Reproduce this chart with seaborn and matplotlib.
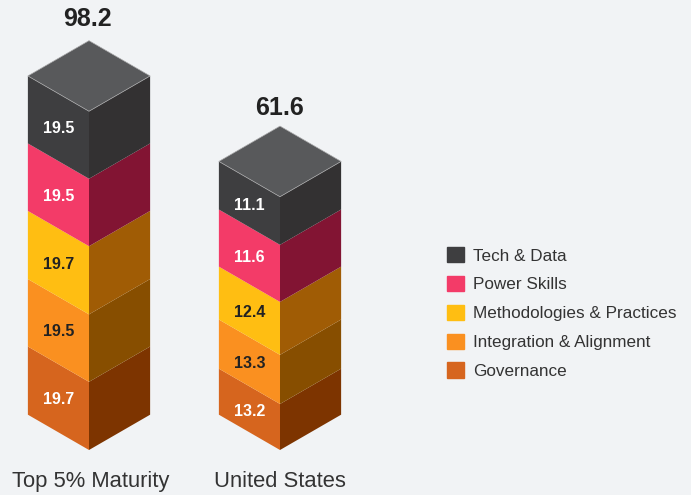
import matplotlib
matplotlib.use("Agg")
import matplotlib.pyplot as plt
from matplotlib.patches import Patch
from matplotlib.transforms import Affine2D, ScaledTranslation
import numpy as np
import seaborn as sns

groups = ["Top 5% Maturity", "United States"]
totals = [98.2, 61.6]
# bottom to top
segments = ["Governance", "Integration & Alignment", "Methodologies & Practices", "Power Skills", "Tech & Data"]
top5_values = [19.7, 19.5, 19.7, 19.5, 19.5]
us_values = [13.2, 13.3, 12.4, 11.6, 11.1]
# the reference does not draw the US block to scale, these are the heights as drawn
us_drawn = [13.3, 14.2, 15.3, 16.5, 13.9]

left_colors = ["#D6651E", "#FA9020", "#FFBE12", "#F33B68", "#3E3E40"]
right_colors = ["#7D3400", "#874E00", "#A05C05", "#821433", "#333132"]
label_colors = ["white", "#222222", "#222222", "white", "white"]
top_color = "#58595B"
bg = "#F1F3F5"

half = 0.32  # width of one face, in category units
PX = 3.46  # pixels per y unit
k = 35.3 / PX / half  # rise of a face per x unit

sns.set_theme(style="white", rc={"figure.facecolor": bg, "axes.facecolor": bg})
plt.rcParams["font.family"] = ["Liberation Sans", "DejaVu Sans"]

fig = plt.figure(figsize=(6.91, 4.95), dpi=100)
ax = fig.add_axes([0, 30 / 495, 1, 465 / 495])
fronts = np.arange(len(groups), dtype=float)


def shear(patches, front, sign):
    for p in patches:
        m = [[1, 0, 0], [sign * k, 1, -sign * k * front], [0, 0, 1]]
        p.set_transform(Affine2D(np.array(m)) + ax.transData)


heights = np.array([top5_values, us_drawn])
bottoms = np.vstack([np.zeros(2), heights.cumsum(axis=1)[:, :-1].T]).T
for i in range(len(segments)):
    for side, colors in ((-1, left_colors), (1, right_colors)):
        n = len(ax.patches)
        sns.barplot(x=fronts + side * half / 2, y=heights[:, i], bottom=bottoms[:, i], ax=ax,
                    native_scale=True, width=half, color=colors[i], saturation=1,
                    errorbar=None, linewidth=0)
        new = ax.patches[n:]
        for j, p in enumerate(new):
            shear([p], fronts[j], side)

# labels on the left faces
all_values = [top5_values, us_values]
nudge = [0.4, 0.6]
for g in range(len(groups)):
    for i in range(len(segments)):
        y = bottoms[g, i] + heights[g, i] / 2 + k * half / 2 - nudge[g]
        ax.text(fronts[g] - half / 2, y, f"{all_values[g][i]:.1f}", color=label_colors[i],
                fontsize=11.5, fontweight="bold", ha="center", va="center")

# top of each block, total above it
tops = heights.sum(axis=1)
gaps = [2.8, 1.7]
for g in range(len(groups)):
    f, t = fronts[g], tops[g]
    rise = k * half
    ax.fill([f, f - half, f, f + half], [t, t + rise, t + 2 * rise, t + rise],
            color=top_color, ec="#A9A9AA", lw=0.5)
    ax.text(f - 0.01 * (1 - g), t + 2 * rise + gaps[g], f"{totals[g]:.1f}", color="#222222",
            fontsize=18, fontweight="bold", ha="center", va="bottom")

ax.set_xlim(-89 / 191, (691 - 89) / 191)
ax.set_ylim(-15 / PX, 450 / PX)
ax.set_xticks(fronts, groups)
ax.set_yticks([])
ax.set_xlabel("")
ax.set_ylabel("")
ax.tick_params(axis="x", length=0, labelsize=15.8, pad=4.5, labelcolor="#333333")
first = ax.get_xticklabels()[0]
first.set_transform(first.get_transform() + ScaledTranslation(1.5 / 72, 0, fig.dpi_scale_trans))
sns.despine(ax=ax, left=True, bottom=True)

handles = [Patch(color=c, label=s) for c, s in zip(left_colors, segments)][::-1]
ax.legend(handles=handles, loc="center left", bbox_to_anchor=(447 / 691, (465 - 313) / 465),
          frameon=False, fontsize=12.3, handlelength=1, handleheight=1, labelspacing=0.72,
          handletextpad=0.55, labelcolor="#333333", borderpad=0, borderaxespad=0)

fig.savefig("out.png", dpi=100, facecolor=bg)
